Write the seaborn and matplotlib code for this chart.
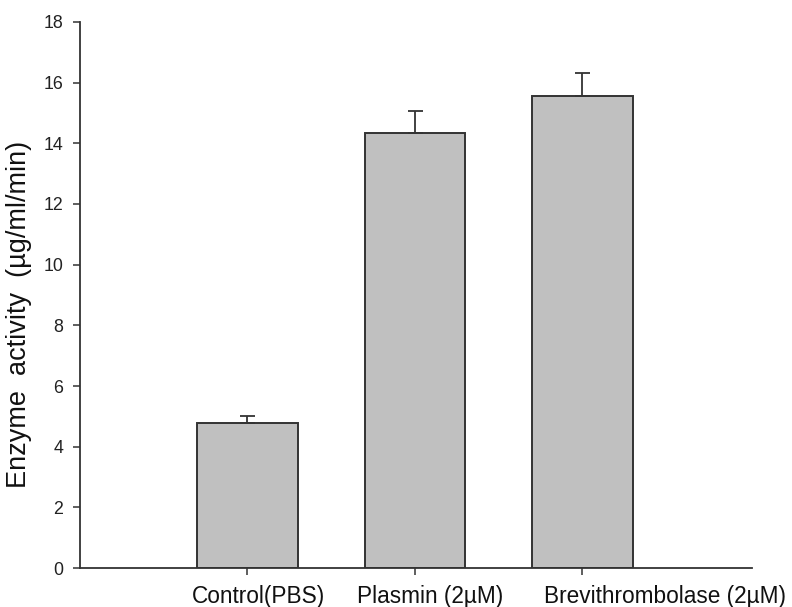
import matplotlib
matplotlib.use("Agg")
import matplotlib.pyplot as plt
import matplotlib.transforms as mtransforms
import numpy as np
import pandas as pd
import seaborn as sns

# Enzyme activity measurements (mean and upper error)
treatments = ["Control(PBS)", "Plasmin (2\u00b5M)", "Brevithrombolase (2\u00b5M)"]
activity = [4.78, 14.35, 15.55]
activity_err = [0.24, 0.70, 0.76]
y_ticks = [0, 2, 4, 6, 8, 10, 12, 14, 16, 18]

df = pd.DataFrame({"treatment": treatments, "activity": activity})

sns.set_style("ticks")
plt.rcParams["font.family"] = ["Liberation Sans", "DejaVu Sans"]

fig = plt.figure(figsize=(7.92, 6.07), dpi=100)
ax = fig.add_axes([0.101, 0.064, 0.848, 0.900])

line_col = "#333333"
sns.barplot(data=df, x="treatment", y="activity", ax=ax, color="#c0c0c0",
            saturation=1, width=0.6, errorbar=None,
            edgecolor=line_col, linewidth=1.4)

# one-sided (upper) error bars
xpos = np.arange(len(treatments))
ax.errorbar(xpos, activity, yerr=[np.zeros(len(activity)), activity_err],
            fmt="none", ecolor=line_col, elinewidth=1.3, capsize=5.4,
            capthick=1.3, zorder=3)

ax.set_xlim(-1.0, 3.01)
ax.set_ylim(0, 18)
ax.set_yticks(y_ticks)
ax.set_yticklabels([str(t) for t in y_ticks], fontsize=12.8, color="#222222")
ax.tick_params(axis="y", direction="out", length=5, width=1.1, pad=7, color=line_col)
ax.tick_params(axis="x", direction="out", length=5, width=1.1, color=line_col)
ax.set_xticks(xpos)
ax.set_xticklabels([])
ax.set_xlabel("")

for side in ["top", "right"]:
    ax.spines[side].set_visible(False)
for side in ["left", "bottom"]:
    ax.spines[side].set_color(line_col)
    ax.spines[side].set_linewidth(1.3)

# category labels, set slightly right of each bar
label_x = [0.063, 1.093, 2.49]
trans = mtransforms.blended_transform_factory(ax.transData, fig.transFigure)
for lx, name in zip(label_x, treatments):
    ax.text(lx, 0.0066, name, transform=trans, ha="center", va="baseline",
            fontsize=16.3, color="#111111")

ax.set_ylabel("Enzyme  activity  (\u00b5g/ml/min)", fontsize=19.5, color="#111111")
ax.yaxis.set_label_coords(-0.072, 0.465)

fig.savefig("out.png", dpi=100)
